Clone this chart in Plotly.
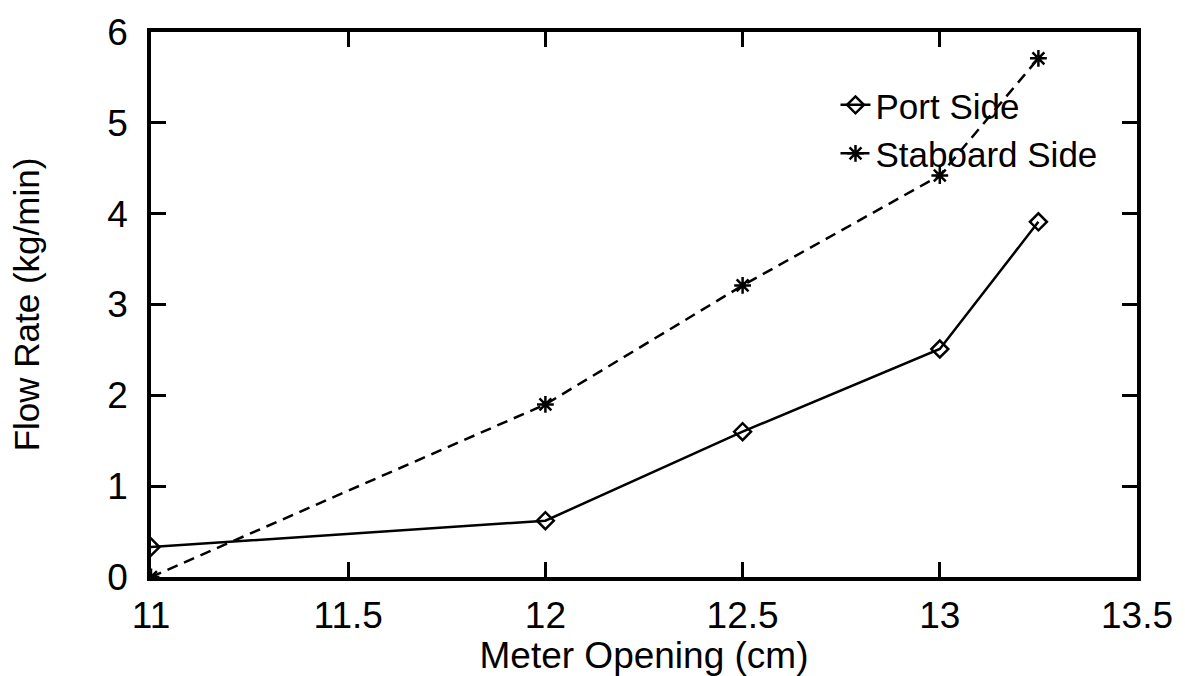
import plotly.graph_objects as go

x_open = [11, 12, 12.5, 13, 13.25]
port_side = [0.33, 0.62, 1.60, 2.51, 3.91]
staboard_side = [0.0, 1.90, 3.21, 4.42, 5.71]

x_ticks = [11, 11.5, 12, 12.5, 13, 13.5]
y_ticks = [0, 1, 2, 3, 4, 5, 6]

FONT = "Liberation Sans, Arial, sans-serif"

fig = go.Figure()
fig.add_trace(go.Scatter(
    x=x_open, y=port_side, name="Port Side", mode="lines+markers",
    line=dict(color="black", width=2.5),
    marker=dict(symbol="diamond-open", size=13, color="black", line=dict(width=2.5)),
))
fig.add_trace(go.Scatter(
    x=x_open, y=staboard_side, name="Staboard Side", mode="lines+markers",
    line=dict(color="black", width=2.5, dash="11px,7px"),
    marker=dict(symbol="asterisk-open", size=14, color="black", line=dict(width=2.5, color="black")),
))

axis_common = dict(
    showline=True, linecolor="black", linewidth=3.5, mirror="ticks",
    ticks="inside", ticklen=15, tickwidth=3, tickcolor="black",
    showgrid=False, zeroline=False,
    tickfont=dict(family=FONT, size=37, color="black"),
)

fig.update_xaxes(
    range=[11, 13.5], tickvals=x_ticks, ticktext=[str(v) for v in x_ticks],
    ticklabelstandoff=3,
    title=dict(text="Meter Opening (cm)", font=dict(family=FONT, size=37, color="black"), standoff=0),
    **axis_common,
)
fig.update_yaxes(
    range=[0, 6], tickvals=y_ticks, ticktext=[str(v) for v in y_ticks],
    ticklabelstandoff=12,
    title=dict(text="Flow Rate (kg/min)", font=dict(family=FONT, size=35, color="black"), standoff=58),
    **axis_common,
)

fig.update_layout(
    width=1185, height=676,
    margin=dict(l=151, r=48, t=22, b=99),
    paper_bgcolor="white", plot_bgcolor="white",
    font=dict(family=FONT, color="black"),
    legend=dict(
        x=0.965, y=0.92, xanchor="right", yanchor="top",
        bgcolor="rgba(0,0,0,0)", borderwidth=0,
        font=dict(family=FONT, size=35, color="black"),
        tracegroupgap=0,
    ),
)

fig.write_html("out.html")
